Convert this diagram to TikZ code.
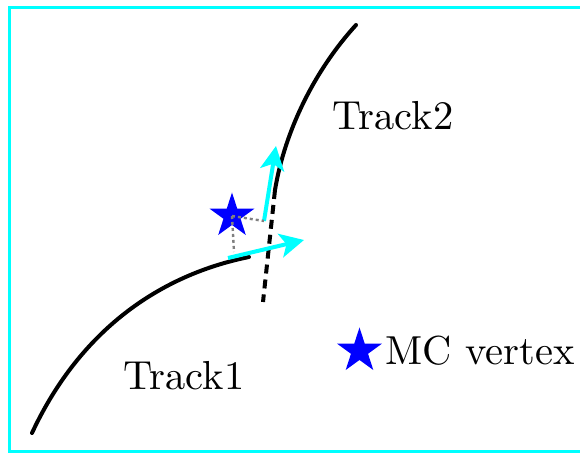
\documentclass[tikz,border=0pt]{standalone}
\usetikzlibrary{shapes.geometric,arrows.meta}
\definecolor{aqua}{RGB}{0,255,255}
\begin{document}
\begin{tikzpicture}[x=0.5pt,y=-0.5pt,
  track/.style={line width=2pt,black,line cap=round},
  extrap/.style={line width=2pt,black,dash pattern=on 4.5pt off 3pt},
  momarrow/.style={line width=2pt,aqua,-{Stealth[length=12pt,width=12pt,inset=3pt]}},
  perp/.style={line width=1.2pt,gray,dash pattern=on 1.5pt off 1.5pt},
  mcstar/.style={star,star points=5,star point ratio=2.618,minimum size=23.5pt,inner sep=0pt,fill=blue,draw=none},
  lbl/.style={inner sep=0pt,anchor=base west,font=\fontsize{10}{12}\selectfont,scale=2.025}]
\useasboundingbox (0,0) rectangle (580,454);
\begin{scope}
\clip (0,0) rectangle (580,454);
\draw[aqua,line width=1.5pt] (9,8) rectangle (600,452);
\end{scope}
% coordinates
\coordinate (t1s) at (32,433);
\coordinate (t1e) at (249,257);
\coordinate (t2s) at (275,190);
\coordinate (t2e) at (356,25);
\coordinate (ext) at (263,302);
\coordinate (a1s) at (228,258);
\coordinate (a1e) at (304,240);
\coordinate (a2s) at (264,221);
\coordinate (a2e) at (276,146);
\coordinate (p1) at (234,252);
% tracks
\draw[track] (t1s) .. controls (80,330) and (160,275) .. (t1e);
\draw[track] (t2s) .. controls (285,130) and (315,70) .. (t2e);
\draw[extrap] (t2s) -- (ext);
% arrows
\draw[momarrow] (a1s) -- (a1e);
\draw[momarrow] (a2s) -- (a2e);
% star
\node[mcstar] (mc) at (232,216) {};
\draw[perp] (mc.center) -- (a2s);
\draw[perp] (mc.center) -- (p1);
% labels
\node[lbl] (lt2) at (332,130) {Track2};
\node[lbl] (lt1) at (123,390) {Track1};
\node[mcstar] (legstar) at (359.5,351) {};
\node[lbl] (lmc) at (385,365) {MC vertex};
\end{tikzpicture}
\end{document}
